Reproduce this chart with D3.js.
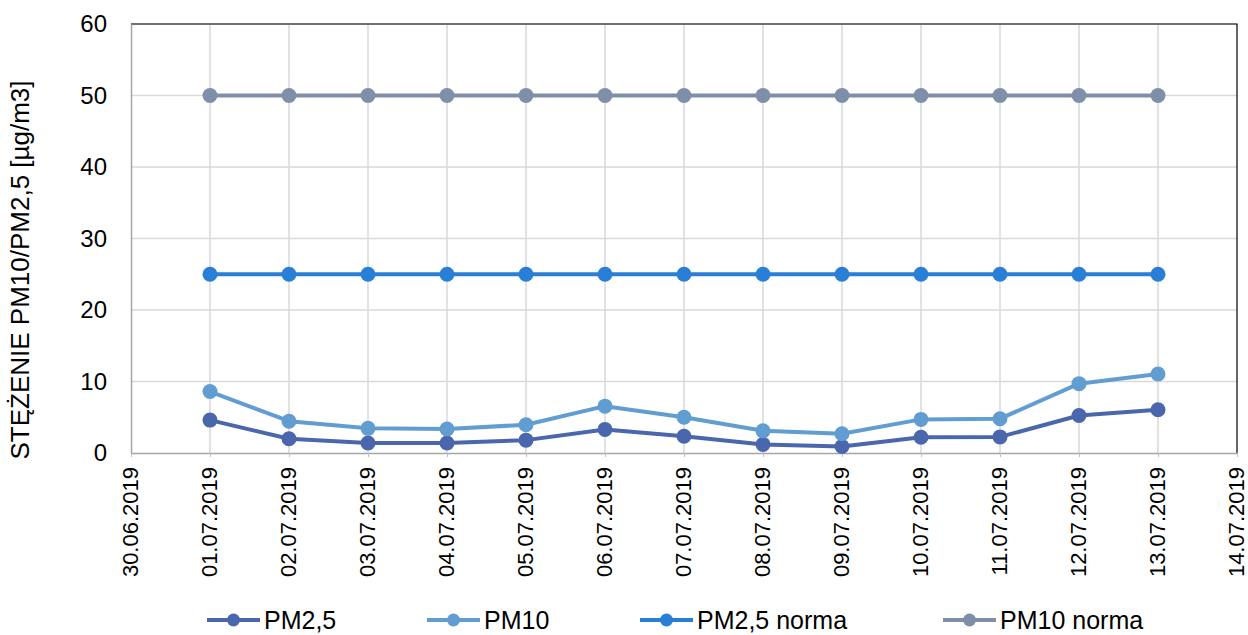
<!DOCTYPE html>
<html>
<head>
<meta charset="utf-8">
<script src="https://cdn.jsdelivr.net/npm/d3@7"></script>
<style>
  body { margin: 0; background: #fff; }
  svg { font-family: "Liberation Sans", Arial, sans-serif; }
</style>
</head>
<body>
<svg></svg>
<script>
const axisDates = ["30.06.2019", "01.07.2019", "02.07.2019", "03.07.2019", "04.07.2019",
  "05.07.2019", "06.07.2019", "07.07.2019", "08.07.2019", "09.07.2019", "10.07.2019",
  "11.07.2019", "12.07.2019", "13.07.2019", "14.07.2019"];
const dates = axisDates.slice(1, 14);
const pm25 = [4.6, 2.0, 1.4, 1.4, 1.8, 3.3, 2.35, 1.2, 0.9, 2.2, 2.25, 5.25, 6.05];
const pm10 = [8.6, 4.45, 3.45, 3.35, 3.95, 6.55, 5.0, 3.1, 2.7, 4.7, 4.8, 9.7, 11.05];
const pm25norm = [25, 25, 25, 25, 25, 25, 25, 25, 25, 25, 25, 25, 25];
const pm10norm = [50, 50, 50, 50, 50, 50, 50, 50, 50, 50, 50, 50, 50];
const yTicks = [0, 10, 20, 30, 40, 50, 60];

const seriesNames = ["PM2,5", "PM10", "PM2,5 norma", "PM10 norma"];
const seriesValues = [pm25, pm10, pm25norm, pm10norm];
const colors = ["#4a66ac", "#629dd1", "#297fd5", "#7f8fa9"];

const width = 1248, height = 635;
const margin = { top: 24, right: 11, bottom: 182, left: 131 };

const svg = d3.select("svg").attr("width", width).attr("height", height);

const x = d3.scalePoint().domain(axisDates).range([margin.left, width - margin.right]);
const y = d3.scaleLinear().domain([0, 60]).range([height - margin.bottom, margin.top]);

// grid
svg.append("g")
  .selectAll("line")
  .data(yTicks.slice(1))
  .join("line")
  .attr("x1", margin.left).attr("x2", width - margin.right)
  .attr("y1", d => y(d)).attr("y2", d => y(d))
  .attr("stroke", "#d9d9d9").attr("stroke-width", 1.5);

svg.append("g")
  .selectAll("line")
  .data(axisDates.slice(1, 14))
  .join("line")
  .attr("x1", d => x(d)).attr("x2", d => x(d))
  .attr("y1", margin.top).attr("y2", y(0))
  .attr("stroke", "#d9d9d9").attr("stroke-width", 1.5);

// plot border, top and right side
svg.append("path")
  .attr("d", `M${margin.left},${margin.top}H${width - margin.right}V${y(0)}`)
  .attr("fill", "none").attr("stroke", "#000").attr("stroke-width", 1.2);

// x axis
const xAxis = svg.append("g")
  .attr("transform", `translate(0,${y(0)})`)
  .call(d3.axisBottom(x).tickSize(4).tickSizeOuter(0));
xAxis.select(".domain").attr("stroke", "#a6a6a6").attr("stroke-width", 1.5);
xAxis.selectAll(".tick line").attr("stroke", "#bfbfbf");
xAxis.selectAll(".tick text")
  .attr("font-size", 22)
  .attr("fill", "#000")
  .attr("transform", "rotate(-90)")
  .attr("text-anchor", "end")
  .attr("x", -14)
  .attr("y", 0)
  .attr("dy", "0.3em");

// y axis
const yAxis = svg.append("g")
  .attr("transform", `translate(${margin.left},0)`)
  .call(d3.axisLeft(y).tickValues(yTicks).tickSize(0).tickPadding(24));
yAxis.select(".domain").attr("stroke", "#a6a6a6").attr("stroke-width", 1.5);
yAxis.selectAll(".tick text").attr("font-size", 24).attr("fill", "#000");

svg.append("text")
  .attr("transform", `translate(29,270) rotate(-90)`)
  .attr("text-anchor", "middle")
  .attr("font-size", 26)
  .attr("fill", "#000")
  .text("STĘŻENIE PM10/PM2,5 [µg/m3]");

// series
const line = d3.line().x((d, i) => x(dates[i])).y(d => y(d));

seriesValues.forEach((vals, k) => {
  svg.append("path")
    .datum(vals)
    .attr("fill", "none")
    .attr("stroke", colors[k])
    .attr("stroke-width", 4)
    .attr("stroke-linejoin", "round")
    .attr("d", line);
  svg.append("g")
    .selectAll("circle")
    .data(vals)
    .join("circle")
    .attr("cx", (d, i) => x(dates[i]))
    .attr("cy", d => y(d))
    .attr("r", 7.5)
    .attr("fill", colors[k]);
});

// legend
const legendX = [207, 427, 640, 943];
const legend = svg.append("g").attr("transform", "translate(0,620)");
seriesNames.forEach((name, k) => {
  const g = legend.append("g").attr("transform", `translate(${legendX[k]},0)`);
  g.append("line").attr("x1", 0).attr("x2", 53).attr("y1", 0).attr("y2", 0)
    .attr("stroke", colors[k]).attr("stroke-width", 4);
  g.append("circle").attr("cx", 26.5).attr("cy", 0).attr("r", 6.5).attr("fill", colors[k]);
  g.append("text").attr("x", 57).attr("y", 0).attr("dy", "0.35em")
    .attr("font-size", 25).attr("fill", "#000").text(name);
});
</script>
</body>
</html>
